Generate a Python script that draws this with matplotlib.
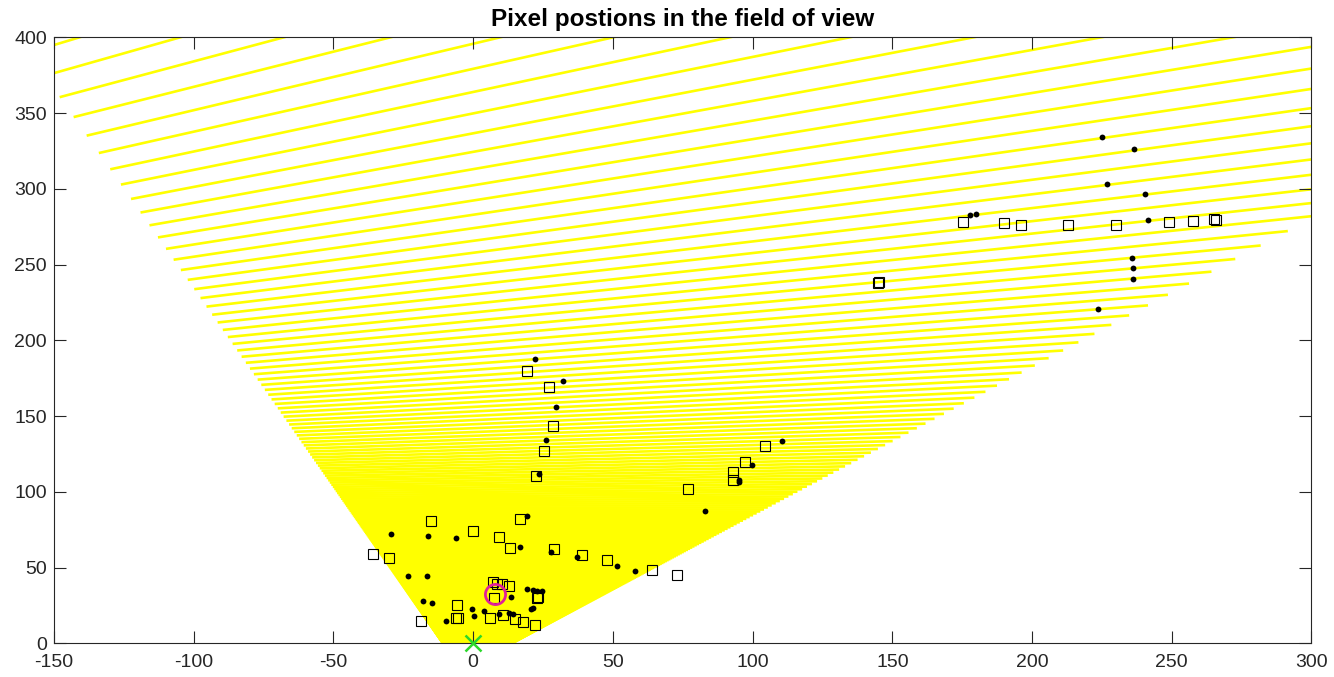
import numpy as np
import matplotlib
matplotlib.use("Agg")
import matplotlib.pyplot as plt
from matplotlib.collections import LineCollection

# edges of the field of view on the ground, x = a + b*y
left_edge = (-11.0, -0.38)
right_edge = (14.0, 1.02)

# y where some pixel rows meet the left / right edge
left_row_idx = np.arange(0, 11)
left_row_y = np.array([360.4, 347.2, 335.1, 323.5, 312.9, 303.0, 293.3, 284.5, 276.0, 267.8, 260.2])
right_row_idx = np.arange(20, 29)
right_row_y = np.array([272.2, 262.5, 253.5, 245.1, 237.7, 230.4, 222.9, 216.3, 210.2])
row_first, row_last = -8, 620

# detections
sq_x = [-15.0, -35.7, -30.0, -0.2, 9.2, 13.1, 16.8, 29.1, 7.1, 8.7, 10.4, 13.0, 7.6, 22.8, 23.2,
        -5.7, -6.3, -5.4, -18.7, 6.1, 10.8, 14.8, 17.9, 22.2,
        19.4, 27.3, 28.6, 25.5, 22.6,
        104.3, 97.3, 93.0, 93.0, 77.0, 39.1, 48.0, 64.1, 72.8,
        175.3, 189.9, 196.0, 213.0, 230.2, 249.1, 257.5, 265.1, 265.7, 145.1, 144.9]
sq_y = [80.7, 59.2, 56.1, 73.9, 70.0, 62.7, 81.8, 62.2, 40.7, 39.1, 38.9, 38.0, 29.7, 30.1, 30.8,
        25.3, 16.5, 16.9, 14.7, 16.9, 18.5, 16.2, 14.1, 11.9,
        179.7, 169.0, 143.6, 127.1, 110.2,
        130.4, 119.7, 112.9, 107.6, 101.8, 58.3, 55.0, 48.2, 44.9,
        278.1, 277.6, 276.3, 275.9, 276.3, 278.3, 278.9, 279.9, 279.4, 238.7, 237.6]

dot_x = [-29.5, -16.0, -6.1, 19.4, 16.9, 28.0, 37.3, -23.4, -16.6, -17.9, -14.7, 13.6, 19.4, 21.4,
         23.0, 24.7, 20.7, 21.4, -0.3, 0.4, 3.7, -9.7, 9.4, 12.9, 14.4,
         22.2, 32.1, 29.6, 25.9, 23.5,
         110.4, 99.8, 95.0, 95.1, 83.1, 51.3, 57.8,
         225.1, 236.6, 227.0, 240.6, 177.9, 180.0, 241.6, 235.7, 236.0, 236.3, 223.7]
dot_y = [71.9, 70.6, 69.5, 84.2, 63.6, 60.5, 56.8, 44.6, 44.4, 28.1, 26.8, 30.6, 35.8, 35.2,
         34.7, 34.7, 22.6, 23.5, 22.6, 18.0, 21.3, 14.7, 19.3, 20.2, 19.3,
         187.7, 172.9, 155.8, 134.0, 111.7,
         133.7, 117.7, 107.8, 106.5, 87.3, 51.0, 47.9,
         334.2, 326.1, 303.0, 296.6, 282.7, 283.2, 279.2, 254.5, 247.5, 240.7, 220.5]

target_x, target_y = [7.9], [32.5]
cam_x, cam_y = [0.0], [0.0]

# ---- pixel rows projected on the ground ----
# the two edges meet in q; along each edge 1/(y - yq) is linear in the row index
yq = (left_edge[0] - right_edge[0]) / (right_edge[1] - left_edge[1])
fit_l = np.polyfit(left_row_idx, 1.0 / (left_row_y - yq), 1)
fit_r = np.polyfit(right_row_idx, 1.0 / (right_row_y - yq), 1)


def edge_point(edge, fit, k):
    y = yq + 1.0 / np.polyval(fit, k)
    return np.array([edge[0] + edge[1] * y, y])


def cross(a1, a2, b1, b2):
    d1 = a2 - a1
    d2 = b2 - b1
    t = np.cross(b1 - a1, d2) / np.cross(d1, d2)
    return a1 + t * d1


# all rows go through one point p
p = cross(edge_point(left_edge, fit_l, 20), edge_point(right_edge, fit_r, 20),
          edge_point(left_edge, fit_l, 28), edge_point(right_edge, fit_r, 28))

segs = []
for k in range(row_first, row_last + 1):
    L = edge_point(left_edge, fit_l, k)
    d = L - p
    t = (right_edge[0] + right_edge[1] * L[1] - L[0]) / (d[0] - right_edge[1] * d[1])
    R = L + t * d
    segs.append([L, R])

plt.rcParams['font.family'] = ['Liberation Sans', 'DejaVu Sans']
plt.rcParams['axes.unicode_minus'] = False
fig = plt.figure(figsize=(13.34, 6.77), dpi=100)
ax = fig.add_axes([0.0405, 0.0498, 0.9426, 0.8951])

lc = LineCollection(segs, colors=[(1, 1, 0)], linewidths=1.9, capstyle='butt', zorder=1)
ax.add_collection(lc)

ax.plot(sq_x, sq_y, 's', ms=6.5, mfc='none', mec='k', mew=0.8, zorder=3)
ax.plot(dot_x, dot_y, 'o', ms=4.2, mfc='k', mec='k', mew=0, zorder=3)
ax.plot(target_x, target_y, 'o', ms=14.5, mfc='none', mec='#e0209a', mew=2, zorder=4)
ax.plot(cam_x, cam_y, 'x', ms=11, mec='#2bd82b', mew=1.8, clip_on=False, zorder=5)

ax.set_xlim(-150, 300)
ax.set_ylim(0, 400)
ax.set_xticks(np.arange(-150, 301, 50))
ax.set_yticks(np.arange(0, 401, 50))
ax.tick_params(direction='in', length=8.5, width=0.8, top=True, right=True,
               labelsize=14, colors='#262626')
ax.tick_params(axis='x', pad=8)
ax.tick_params(axis='y', pad=5)
for s in ax.spines.values():
    s.set_color('#262626')
    s.set_linewidth(0.8)

ax.set_title('Pixel postions in the field of view', fontsize=17.5, fontweight='bold',
             color='black', pad=8)

fig.savefig('out.png', dpi=100)
